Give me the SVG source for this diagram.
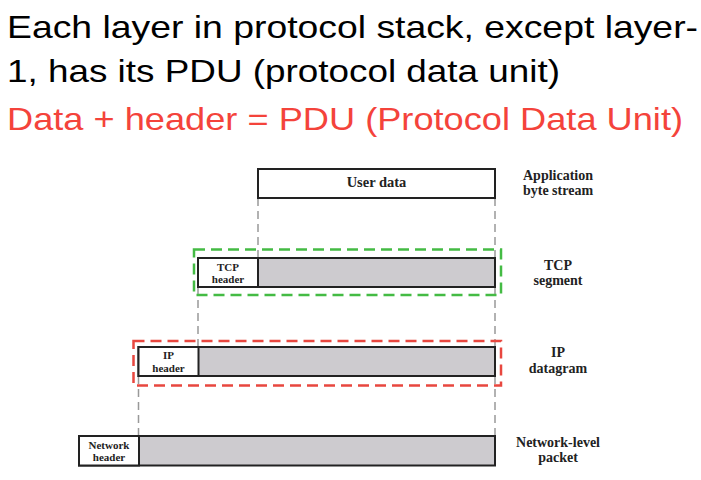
<svg xmlns="http://www.w3.org/2000/svg" width="701" height="480" viewBox="0 0 701 480">
<style>
.title{font-family:"Liberation Sans","DejaVu Sans",sans-serif;font-size:32px;fill:#000}
.red{fill:#f4433b}
.lbl{font-family:"Liberation Serif","DejaVu Serif",serif;font-weight:bold;font-size:14px;fill:#222;text-anchor:middle}
.hdr{font-family:"Liberation Serif","DejaVu Serif",serif;font-weight:bold;font-size:11px;fill:#222;text-anchor:middle}
.box{fill:#fff;stroke:#222;stroke-width:2}
.data{fill:#cdcbcf;stroke:#222;stroke-width:2}
.guide{stroke:#999;stroke-width:1.5;stroke-dasharray:8 5;fill:none}
.pduG{fill:none;stroke:#44bb44;stroke-width:2.5;stroke-dasharray:11 6}
.pduR{fill:none;stroke:#e8473f;stroke-width:2.5;stroke-dasharray:11 6}
</style>
<rect width="701" height="480" fill="#fff"/>
<g id="title">
<text class="title" x="7" y="38" textLength="691" lengthAdjust="spacingAndGlyphs">Each layer in protocol stack, except layer-</text>
<text class="title" x="7" y="82" textLength="553" lengthAdjust="spacingAndGlyphs">1, has its PDU (protocol data unit)</text>
<text class="title red" x="7" y="130" textLength="676" lengthAdjust="spacingAndGlyphs">Data + header = PDU (Protocol Data Unit)</text>
</g>
<g id="connectors">
<line class="guide" x1="258" y1="198" x2="258" y2="258"/>
<line class="guide" x1="495" y1="198" x2="495" y2="258"/>
<line class="guide" x1="198" y1="287" x2="198" y2="347"/>
<line class="guide" x1="495" y1="287" x2="495" y2="347"/>
<line class="guide" x1="138.5" y1="376" x2="138.5" y2="436"/>
<line class="guide" x1="495" y1="376" x2="495" y2="436"/>
</g>
<g id="user-data">
<rect class="box" x="258" y="169" width="237" height="29"/>
<text class="lbl" x="376.5" y="187" style="font-size:14.5px">User data</text>
</g>
<g id="tcp-segment">
<rect class="data" x="198" y="258" width="297" height="29"/>
<rect class="box" x="198" y="258" width="60" height="29"/>
<text class="hdr" x="228" y="271">TCP</text>
<text class="hdr" x="228" y="283">header</text>
<rect class="pduG" x="194" y="249.5" width="307" height="45.5"/>
</g>
<g id="ip-datagram">
<rect class="data" x="138.5" y="347" width="356.5" height="29"/>
<rect class="box" x="138.5" y="347" width="60" height="29"/>
<text class="hdr" x="168.5" y="359">IP</text>
<text class="hdr" x="168.5" y="372">header</text>
<rect class="pduR" x="133.5" y="341" width="367.5" height="44.5"/>
</g>
<g id="network-packet">
<rect class="data" x="79" y="436" width="416" height="29.5"/>
<rect class="box" x="79" y="436" width="60" height="29.5"/>
<text class="hdr" x="109" y="449">Network</text>
<text class="hdr" x="109" y="461">header</text>
</g>
<g id="labels">
<text class="lbl" x="558" y="180">Application</text>
<text class="lbl" x="558" y="195">byte stream</text>
<text class="lbl" x="558" y="270">TCP</text>
<text class="lbl" x="558" y="285">segment</text>
<text class="lbl" x="558" y="357">IP</text>
<text class="lbl" x="558" y="373">datagram</text>
<text class="lbl" x="558" y="447">Network-level</text>
<text class="lbl" x="558" y="462">packet</text>
</g>
</svg>
